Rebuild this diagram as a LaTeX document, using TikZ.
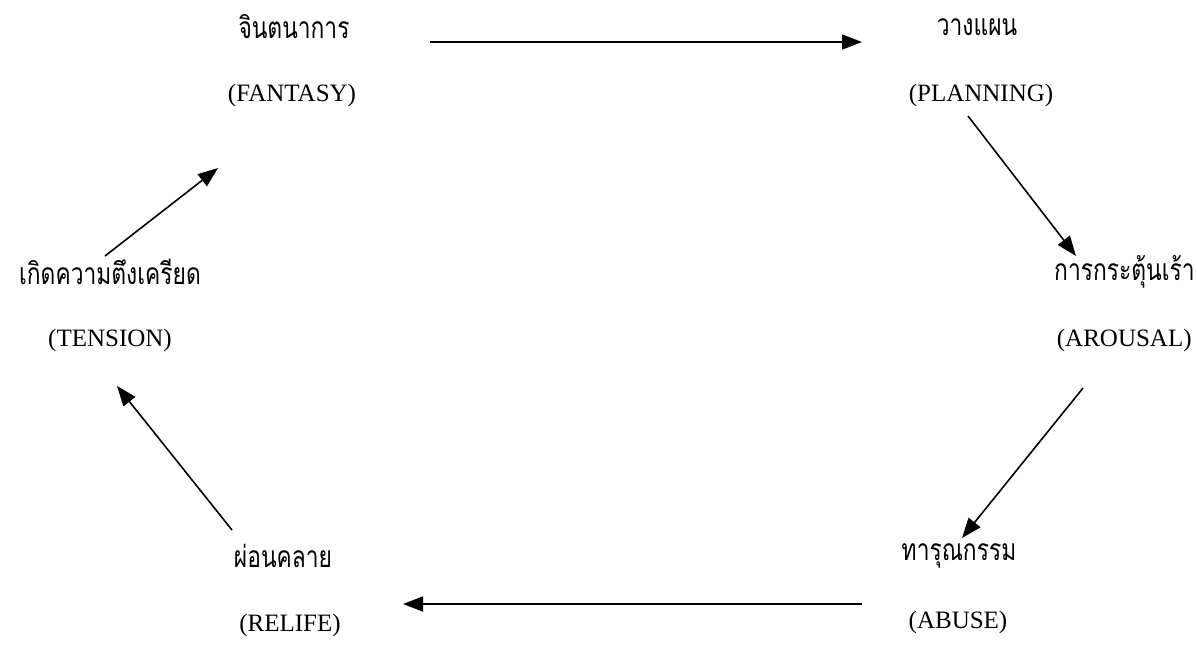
\documentclass[tikz,border=0pt]{standalone}
\usepackage{fontspec}
\setmainfont{Liberation Serif}
\newfontfamily\thaifont[Script=Thai,FakeStretch=0.76]{Loma}
\usetikzlibrary{arrows.meta}
\begin{document}
\begin{tikzpicture}[x=0.5pt,y=-0.5pt,
  th/.style={font=\thaifont\fontsize{15}{17}\selectfont, inner sep=0pt},
  en/.style={font=\fontsize{12.5}{14}\selectfont, inner sep=0pt},
  conn/.style={line width=0.8pt, -{Triangle[length=10pt,width=7.5pt]}}]
\useasboundingbox (0,0) rectangle (1197,644);
% labels
\node[th] (fanTh) at (294,27) {จินตนาการ};
\node[en] (fanEn) at (292,95) {(FANTASY)};
\node[th] (plaTh) at (977,27) {วางแผน};
\node[en] (plaEn) at (981,95) {(PLANNING)};
\node[th, anchor=east] (aroTh) at (1195,272) {การกระตุ้นเร้า};
\node[en, anchor=east] (aroEn) at (1192,340) {(AROUSAL)};
\node[th] (abuTh) at (959,556) {ทารุณกรรม};
\node[en] (abuEn) at (958,622) {(ABUSE)};
\node[th] (relTh) at (283,556) {ผ่อนคลาย};
\node[en] (relEn) at (290,625) {(RELIFE)};
\node[th] (tenTh) at (110,272) {เกิดความตึงเครียด};
\node[en] (tenEn) at (110,340) {(TENSION)};
% connector end points
\coordinate (c1s) at (430,42);  \coordinate (c1e) at (862,42);
\coordinate (c2s) at (968,116); \coordinate (c2e) at (1076,256);
\coordinate (c3s) at (1083,388);\coordinate (c3e) at (962,538);
\coordinate (c4s) at (862,604); \coordinate (c4e) at (403,604);
\coordinate (c5s) at (232,530); \coordinate (c5e) at (117,386);
\coordinate (c6s) at (105,256); \coordinate (c6e) at (218,168);
\draw[conn] (c1s) -- (c1e);
\draw[conn] (c2s) -- (c2e);
\draw[conn] (c3s) -- (c3e);
\draw[conn] (c4s) -- (c4e);
\draw[conn] (c5s) -- (c5e);
\draw[conn] (c6s) -- (c6e);
\end{tikzpicture}
\end{document}
